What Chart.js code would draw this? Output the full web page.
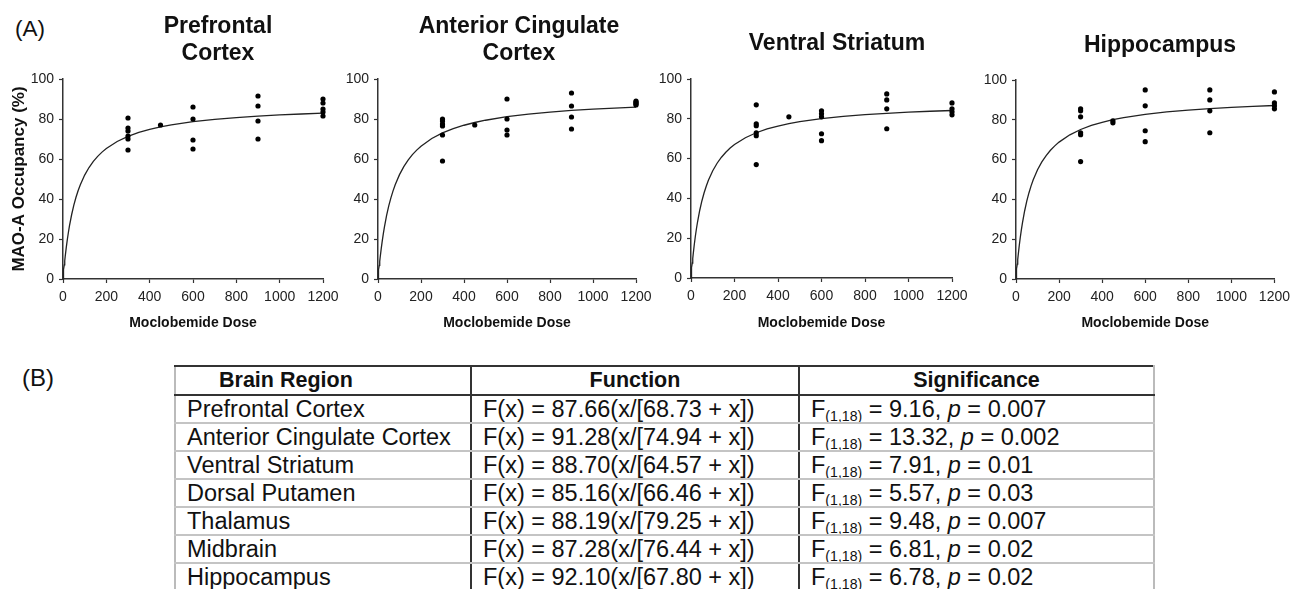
<!DOCTYPE html>
<html>
<head>
<meta charset="utf-8">
<script src="https://cdn.jsdelivr.net/npm/chart.js@4.4.0/dist/chart.umd.min.js"></script>
<style>
  html, body { margin: 0; padding: 0; background: #fff; overflow: hidden; }
  body { width: 1293px; height: 589px; position: relative; font-family: "Liberation Sans", Arial, sans-serif; color: #111; }
  canvas { position: absolute; top: 0; }
  .panel-lbl { position: absolute; line-height: 1; }
  .ptitle { position: absolute; width: 320px; text-align: center; font-weight: bold; font-size: 23px; line-height: 27px; color: #111; white-space: nowrap; }
  #tbl { position: absolute; left: 174px; top: 365px; border-collapse: collapse; table-layout: fixed; width: 979px; color: #111; }
  #tbl th, #tbl td { padding: 0 0 0 11px; white-space: nowrap; overflow: hidden; vertical-align: middle; text-align: left; }
  #tbl th { font-weight: bold; font-size: 21.5px; height: 27px; line-height: 25px; border-top: 2px solid #333; border-bottom: 2px solid #333; }
  #tbl td { font-size: 23.5px; height: 26px; line-height: 26px; border-top: 2px solid #c4c4c4; border-bottom: 2px solid #c4c4c4; }
  #tbl th:first-child { padding-left: 43px; }
  #tbl th.c { text-align: center; padding-left: 0; }
  #tbl .c1 { border-left: 2px solid #bbb; }
  #tbl .c2 { border-left: 2px solid #333; }
  #tbl .c3 { border-left: 2px solid #333; border-right: 2px solid #bbb; }
  #tbl sub { font-size: 0.6em; vertical-align: -0.3em; line-height: 0; color: #111; }
</style>
</head>
<body>
<div class="panel-lbl" style="left:15px; top:18px; font-size:22.5px;">(A)</div>
<div class="panel-lbl" style="left:22px; top:366px; font-size:24px;">(B)</div>

<canvas id="c1" width="345" height="340" style="left:0px"></canvas>
<canvas id="c2" width="330" height="340" style="left:330px"></canvas>
<canvas id="c3" width="335" height="340" style="left:640px"></canvas>
<canvas id="c4" width="330" height="340" style="left:966px"></canvas>

<table id="tbl">
  <colgroup><col style="width:296px"><col style="width:328px"><col style="width:355px"></colgroup>
  <thead>
    <tr><th class="c1">Brain Region</th><th class="c2 c">Function</th><th class="c3 c">Significance</th></tr>
  </thead>
  <tbody id="tbody"></tbody>
</table>

<script>
// ===============================
// Data
// ===============================
const regionNames = ['Prefrontal Cortex', 'Anterior Cingulate Cortex', 'Ventral Striatum',
  'Dorsal Putamen', 'Thalamus', 'Midbrain', 'Hippocampus'];
const fitVmax = ['87.66', '91.28', '88.70', '85.16', '88.19', '87.28', '92.10'];
const fitKd = ['68.73', '74.94', '64.57', '66.46', '79.25', '76.44', '67.80'];
const fStat = ['9.16', '13.32', '7.91', '5.57', '9.48', '6.81', '6.78'];
const pValue = ['0.007', '0.002', '0.01', '0.03', '0.007', '0.02', '0.02'];

const doseTicks = [0, 200, 400, 600, 800, 1000, 1200];
const occTicks = [0, 20, 40, 60, 80, 100];

const panelTitles = [['Prefrontal', 'Cortex'], ['Anterior Cingulate', 'Cortex'], ['Ventral Striatum'], ['Hippocampus']];
const panelRegion = [0, 1, 2, 6];

// individual subjects (dose mg, occupancy %)
const pfcDose = [300, 300, 300, 300, 300, 300, 450, 600, 600, 600, 600, 900, 900, 900, 900, 1200, 1200, 1200, 1200, 1200];
const pfcOcc = [80.5, 75.5, 74, 71.5, 70, 64.5, 77, 86, 80, 69.5, 65, 91.5, 86.5, 79, 70, 90, 88, 85, 83.5, 81.5];

const accDose = [300, 300, 300, 300, 300, 300, 450, 600, 600, 600, 600, 900, 900, 900, 900, 1200, 1200, 1200, 1200, 1200];
const accOcc = [80, 79, 77.5, 76.5, 72, 59, 77, 90, 80, 74.5, 72, 93, 86.5, 81, 75, 89, 88.5, 88, 87.5, 87];

const vsDose = [300, 300, 300, 300, 300, 300, 450, 600, 600, 600, 600, 600, 900, 900, 900, 900, 1200, 1200, 1200, 1200];
const vsOcc = [87, 77.5, 76.5, 73, 71.5, 57, 81, 84, 82.5, 81, 72.5, 69, 92.5, 89.5, 85, 75, 88, 85, 83.5, 82];

const hipDose = [300, 300, 300, 300, 300, 300, 450, 450, 600, 600, 600, 600, 900, 900, 900, 900, 1200, 1200, 1200, 1200];
const hipOcc = [85.5, 84.5, 81.5, 73.5, 72.5, 59, 79.5, 78.5, 95, 87, 74.5, 69, 95, 90, 84.5, 73.5, 94, 88.5, 87, 85.5];

const panelDose = [pfcDose, accDose, vsDose, hipDose];
const panelOcc = [pfcOcc, accOcc, vsOcc, hipOcc];

// doses at which the fitted curve is drawn
const curveDoses = [0, 1, 2, 4, 6, 8, 10, 15, 20, 25, 30, 40, 50, 60, 70, 80, 100, 120, 140, 160,
  180, 200, 250, 300, 350, 400, 450, 500, 600, 700, 800, 900, 1000, 1100, 1200];

// canvas geometry of each panel (canvas left, title centre / top)
const panelLayout = [
  { id: 'c1', left: 0,   padL: 0, yW: 63, padR: 22, padT: 79, xH: 61, tX: 218, tY: 12 },
  { id: 'c2', left: 330, padL: 3, yW: 45, padR: 24, padT: 79, xH: 61, tX: 519, tY: 12 },
  { id: 'c3', left: 640, padL: 6, yW: 45, padR: 23, padT: 79, xH: 62, tX: 837, tY: 29 },
  { id: 'c4', left: 966, padL: 5, yW: 45, padR: 18, padT: 80, xH: 61, tX: 1160, tY: 31 }
];

const FONT = '"Liberation Sans", Arial, sans-serif';
const AXIS = '#333';

// ===============================
// Charts
// ===============================
panelLayout.forEach(function (lay, i) {
  // panel heading
  const t = document.createElement('div');
  t.className = 'ptitle';
  t.style.left = (lay.tX - 160) + 'px';
  t.style.top = lay.tY + 'px';
  t.innerHTML = panelTitles[i].join('<br>');
  document.body.appendChild(t);

  const r = panelRegion[i];
  const vmax = parseFloat(fitVmax[r]);
  const kd = parseFloat(fitKd[r]);
  const pts = panelDose[i].map((d, k) => ({ x: d, y: panelOcc[i][k] }));
  const fit = curveDoses.map(d => ({ x: d, y: vmax * d / (kd + d) }));

  new Chart(document.getElementById(lay.id), {
    type: 'scatter',
    data: {
      datasets: [
        { data: fit, showLine: true, borderColor: '#222', borderWidth: 1.3, pointRadius: 0, tension: 0, fill: false, order: 2, clip: false },
        { data: pts, pointRadius: 2.6, pointBackgroundColor: '#000', pointBorderColor: '#000', pointBorderWidth: 0, order: 1, clip: false }
      ]
    },
    options: {
      responsive: false,
      animation: false,
      events: [],
      layout: { padding: { left: lay.padL, right: lay.padR, top: lay.padT, bottom: 0 } },
      plugins: {
        legend: { display: false },
        tooltip: { enabled: false }
      },
      scales: {
        x: {
          type: 'linear', min: 0, max: 1200,
          afterBuildTicks: s => { s.ticks = doseTicks.map(v => ({ value: v })); },
          afterFit: s => { s.height = lay.xH; },
          grid: { drawOnChartArea: false, drawTicks: true, tickLength: 4, tickColor: AXIS, tickWidth: 1.2 },
          border: { display: true, color: AXIS, width: 1.5 },
          ticks: { color: '#222', font: { family: FONT, size: 14 }, padding: 6, maxRotation: 0, callback: v => String(v) },
          title: {
            display: true, text: 'Moclobemide Dose', color: '#111',
            font: { family: FONT, size: 14, weight: 'bold' },
            padding: { top: 0, bottom: 8 }
          }
        },
        y: {
          type: 'linear', min: 0, max: 100,
          afterBuildTicks: s => { s.ticks = occTicks.map(v => ({ value: v })); },
          afterFit: s => { s.width = lay.yW; },
          grid: { drawOnChartArea: false, drawTicks: true, tickLength: 4, tickColor: AXIS, tickWidth: 1.2 },
          border: { display: true, color: AXIS, width: 1.5 },
          ticks: { color: '#222', font: { family: FONT, size: 14 }, padding: 5, callback: v => String(v) },
          title: {
            display: i === 0, text: 'MAO-A Occupancy (%)', color: '#111',
            font: { family: FONT, size: 17, weight: 'bold' },
            padding: { top: 9, bottom: 0 }
          }
        }
      }
    }
  });
});

// ===============================
// Table (B)
// ===============================
const tbody = document.getElementById('tbody');
regionNames.forEach(function (name, r) {
  const tr = document.createElement('tr');
  const td1 = document.createElement('td');
  td1.className = 'c1';
  td1.textContent = name;
  const td2 = document.createElement('td');
  td2.className = 'c2';
  td2.textContent = 'F(x) = ' + fitVmax[r] + '(x/[' + fitKd[r] + ' + x])';
  const td3 = document.createElement('td');
  td3.className = 'c3';
  td3.innerHTML = 'F<sub>(1,18)</sub> = ' + fStat[r] + ', <i>p</i> = ' + pValue[r];
  tr.appendChild(td1);
  tr.appendChild(td2);
  tr.appendChild(td3);
  tbody.appendChild(tr);
});
</script>
</body>
</html>
